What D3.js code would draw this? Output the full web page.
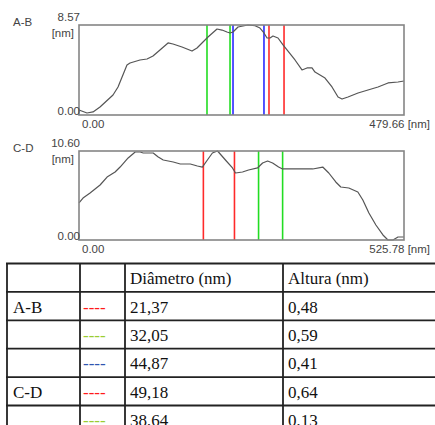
<!DOCTYPE html>
<html><head><meta charset="utf-8">
<script src="https://cdn.jsdelivr.net/npm/d3@7"></script>
<style>body{margin:0;background:#fff}svg{display:block}</style>
</head><body>
<script>
// ---- Data ----
const abX = [0,11.8,20.7,31.0,50.2,57.6,70.8,75.3,90.0,100.4,109.2,119.5,131.4,138.7,152.0,166.8,174.2,183.0,190.4,203.7,211.1,218.4,222.9,227.3,234.7,249.4,259.8,267.1,273.0,277.5,281.9,286.3,293.7,301.1,307.0,318.8,329.1,336.5,343.9,348.3,363.1,373.4,382.3,388.2,397.0,411.8,426.5,441.3,456.1,470.8,479.66];
const abY = [0.48,0.19,0.29,0.76,1.90,2.67,4.76,4.95,5.24,5.33,5.62,6.19,6.86,6.76,6.48,6.09,6.38,6.95,7.43,8.19,8.09,7.90,7.81,7.90,8.38,8.57,8.50,8.28,7.81,7.33,7.33,7.52,7.33,6.67,6.19,5.24,4.29,4.48,4.48,4.09,3.52,2.67,1.71,1.52,1.71,2.09,2.38,2.67,3.05,3.14,3.24];
const cdX = [0,6.5,17.9,34.1,45.4,58.4,66.5,79.5,90.9,99.0,103.9,120.1,128.2,136.3,152.5,163.9,180.1,191.5,199.6,207.7,215.8,223.9,225.6,236.9,248.3,253.2,264.5,274.3,288.9,297.0,305.1,313.2,322.9,329.4,345.7,361.9,378.1,394.3,404.1,415.4,423.5,436.5,451.1,459.2,469.0,480.3,491.7,499.8,507.9,516.1,520.9,525.78];
const cdY = [4.41,5.00,5.60,6.55,7.50,8.10,8.69,9.77,10.48,10.48,10.36,10.36,9.89,9.53,9.29,9.05,9.05,8.81,8.69,9.53,10.36,10.60,10.48,9.53,8.58,7.98,8.10,8.34,8.58,9.17,9.41,9.17,8.69,8.46,8.46,8.46,8.46,8.69,7.98,6.91,6.31,6.19,5.72,4.76,3.22,1.79,0.60,0.00,0.00,0.36,0.36,0.36];
const abCursors = [188.9,222.9,227.3,273.0,280.4,302.6];
const abCursorColors = ["green","green","blue","blue","red","red"];
const cdCursors = [201.2,251.5,290.5,329.4];
const cdCursorColors = ["red","red","green","green"];
const profileNames = ["A-B","C-D"];
const xMax = [479.66,525.78];
const yMax = [8.57,10.60];

const tableHeader = ["","","Diâmetro (nm)","Altura (nm)"];
const rowLabels = ["A-B","","","C-D",""];
const rowDashColors = ["red","green","blue","red","green"];
const diameters = ["21,37","32,05","44,87","49,18","38,64"];
const heights = ["0,48","0,59","0,41","0,64","0,13"];

// ---- Drawing ----
const W = 435, H = 425;
const svg = d3.select("body").append("svg").attr("width", W).attr("height", H);
const cursorColor = {green:"#22dd22", blue:"#2a2aff", red:"#ff2a2a"};
const dashColor = {red:"#ff1a1a", green:"#9acd32", blue:"#2f55b0"};

const panels = [
  {name:profileNames[0], xs:abX, ys:abY, cur:abCursors, cc:abCursorColors, xmax:xMax[0], ymax:yMax[0], top:25, bottom:115},
  {name:profileNames[1], xs:cdX, ys:cdY, cur:cdCursors, cc:cdCursorColors, xmax:xMax[1], ymax:yMax[1], top:151, bottom:240}
];
const left = 79, right = 404;
const sans = "'Liberation Sans', Arial, sans-serif";

panels.forEach(p => {
  const x = d3.scaleLinear().domain([0, p.xmax]).range([left, right]);
  const y = d3.scaleLinear().domain([0, p.ymax]).range([p.bottom, p.top]);
  const g = svg.append("g");
  g.selectAll("line.cur").data(p.cur).join("line")
    .attr("x1", d => x(d)).attr("x2", d => x(d))
    .attr("y1", y(p.ymax)).attr("y2", y(0))
    .attr("stroke", (d,i) => cursorColor[p.cc[i]]).attr("stroke-width", 1.6);
  const pts = p.xs.map((v,i) => [v, p.ys[i]]);
  g.append("path").datum(pts)
    .attr("d", d3.line().x(d => x(d[0])).y(d => y(d[1])))
    .attr("fill","none").attr("stroke","#555").attr("stroke-width",1.2).attr("stroke-linejoin","round");
  g.append("rect").attr("x", x(0)).attr("y", y(p.ymax))
    .attr("width", x(p.xmax)-x(0)).attr("height", y(0)-y(p.ymax))
    .attr("fill","none").attr("stroke","#858585").attr("stroke-width",1.6);
  const t = (txt, tx, ty, anchor) => g.append("text").text(txt)
    .attr("x", tx).attr("y", ty).attr("text-anchor", anchor)
    .attr("dominant-baseline","central")
    .attr("font-family", sans).attr("font-size", 11.5).attr("fill","#444");
  t(p.name, 13, y(p.ymax) - 3, "start");
  t(d3.format(".2f")(p.ymax), x(0)+1, y(p.ymax) - 8, "end");
  t("[nm]", x(0)-5, y(p.ymax) + 8, "end");
  t(d3.format(".2f")(0), x(0)+1, y(0) - 4, "end");
  t(d3.format(".2f")(0), x(0)+3, y(0) + 8.5, "start");
  t(d3.format(".2f")(p.xmax) + " [nm]", x(p.xmax)+26, y(0) + 8.5, "end");
});

// ---- Table ----
const colX = [7, 80, 125, 283, 440];
const rowTop = 263.5, rowH = 28.4;
const nRows = 1 + rowLabels.length;
const serif = "'Liberation Serif', 'Times New Roman', serif";
const tg = svg.append("g");
for (let r = 0; r <= nRows; r++) {
  tg.append("line").attr("x1", colX[0]-1).attr("x2", W+2)
    .attr("y1", rowTop + r*rowH).attr("y2", rowTop + r*rowH)
    .attr("stroke","#222").attr("stroke-width",1.8);
}
colX.slice(0,4).forEach(cx => {
  tg.append("line").attr("x1", cx).attr("x2", cx)
    .attr("y1", rowTop).attr("y2", rowTop + nRows*rowH)
    .attr("stroke","#222").attr("stroke-width",1.8);
});
const cellText = (txt, cx, r, color) => tg.append("text").text(txt)
  .attr("x", cx).attr("y", rowTop + r*rowH + rowH/2 + 1)
  .attr("dominant-baseline","central")
  .attr("font-family", serif).attr("font-size", 17).attr("fill", color || "#111");
tableHeader.forEach((h,i) => { if (h) cellText(h, colX[i]+5, 0); });
rowLabels.forEach((lab,i) => {
  if (lab) cellText(lab, colX[0]+6, i+1);
  cellText("----", colX[1]+3, i+1, dashColor[rowDashColors[i]]);
  cellText(diameters[i], colX[2]+5, i+1);
  cellText(heights[i], colX[3]+5, i+1);
});
</script>
</body></html>
